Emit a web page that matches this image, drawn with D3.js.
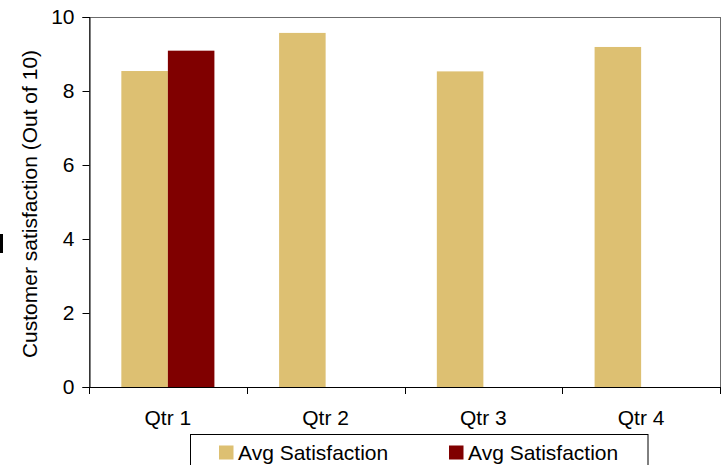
<!DOCTYPE html>
<html>
<head>
<meta charset="utf-8">
<script src="https://cdn.jsdelivr.net/npm/d3@7"></script>
<style>
  html, body { margin: 0; padding: 0; background: #fff; }
  svg { display: block; font-family: "Liberation Sans", Arial, sans-serif; }
</style>
</head>
<body>
<svg id="chart" width="728" height="465"></svg>
<script>
const quarters = ["Qtr 1", "Qtr 2", "Qtr 3", "Qtr 4"];
const seriesNames = ["Avg Satisfaction", "Avg Satisfaction"];
const seriesA = [8.54, 9.57, 8.53, 9.19];
const seriesB = [9.09, null, null, null];
const yTicks = [0, 2, 4, 6, 8, 10];
const yTitle = "Customer satisfaction (Out of 10)";
const colors = ["#DDC072", "#800000"];

const svg = d3.select("#chart");
const W = 728, H = 465;
const plot = { left: 89, top: 17, right: 720, bottom: 387 };
const fontSize = 21;

const x = d3.scaleBand().domain(quarters).range([plot.left, plot.right]).padding(0);
const y = d3.scaleLinear().domain([0, 10]).range([plot.bottom, plot.top]);
const bw = x.bandwidth();
const gap = bw * 0.41;
const x1 = d3.scaleBand().domain([0, 1]).range([gap / 2, bw - gap / 2]).padding(0);

// artifact mark at left edge
svg.append("rect").attr("x", 0).attr("y", 234).attr("width", 3).attr("height", 19).attr("fill", "#000");

// plot area border
svg.append("rect")
  .attr("x", plot.left + 0.5).attr("y", plot.top + 0.5)
  .attr("width", plot.right - plot.left).attr("height", plot.bottom - plot.top)
  .attr("fill", "none").attr("stroke", "#6b6b6b").attr("stroke-width", 1);

// bars
const series = [seriesA, seriesB];
series.forEach((vals, si) => {
  svg.append("g").selectAll("rect")
    .data(quarters.map((q, i) => ({ q, v: vals[i] })).filter(d => d.v != null))
    .join("rect")
    .attr("x", d => x(d.q) + x1(si))
    .attr("y", d => y(d.v))
    .attr("width", x1.bandwidth())
    .attr("height", d => y(0) - y(d.v))
    .attr("fill", colors[si]);
});

// y axis
const yAxis = d3.axisLeft(y).tickValues(yTicks).tickSize(7).tickPadding(8).tickFormat(d3.format("d"));
const gy = svg.append("g").attr("transform", `translate(${plot.left + 0.5},0)`).call(yAxis);
gy.select(".domain").attr("stroke", "#000");
gy.selectAll(".tick line").attr("stroke", "#000");
gy.selectAll(".tick text").attr("font-size", fontSize).attr("fill", "#000")
  .attr("font-family", '"Liberation Sans", Arial, sans-serif');

// x axis line
svg.append("line").attr("x1", plot.left).attr("x2", plot.right + 1)
  .attr("y1", plot.bottom + 0.5).attr("y2", plot.bottom + 0.5).attr("stroke", "#000");
// x ticks at band boundaries
const edges = quarters.map(q => x(q)).concat([x(quarters[quarters.length - 1]) + bw]);
svg.append("g").selectAll("line").data(edges).join("line")
  .attr("x1", d => Math.round(d) + 0.5).attr("x2", d => Math.round(d) + 0.5)
  .attr("y1", plot.bottom).attr("y2", plot.bottom + 7).attr("stroke", "#000");
// x labels
svg.append("g").selectAll("text").data(quarters).join("text")
  .attr("x", d => x(d) + bw / 2).attr("y", 425)
  .attr("text-anchor", "middle").attr("font-size", fontSize).attr("fill", "#000")
  .text(d => d);

// y title
svg.append("text")
  .attr("transform", `translate(37,${(plot.top + plot.bottom) / 2 + 2}) rotate(-90)`)
  .attr("text-anchor", "middle").attr("font-size", fontSize).attr("fill", "#000")
  .text(yTitle);

// legend
const lg = svg.append("g");
lg.append("rect").attr("x", 190.5).attr("y", 434.5).attr("width", 457.5).attr("height", 50)
  .attr("fill", "#fff").attr("stroke", "#000");
const legendX = [219, 449];
seriesNames.forEach((name, i) => {
  lg.append("rect").attr("x", legendX[i]).attr("y", 445.5).attr("width", 14.5).attr("height", 14)
    .attr("fill", colors[i]);
  lg.append("text").attr("x", legendX[i] + 19).attr("y", 459.5)
    .attr("font-size", fontSize).attr("fill", "#000").text(name);
});
</script>
</body>
</html>
